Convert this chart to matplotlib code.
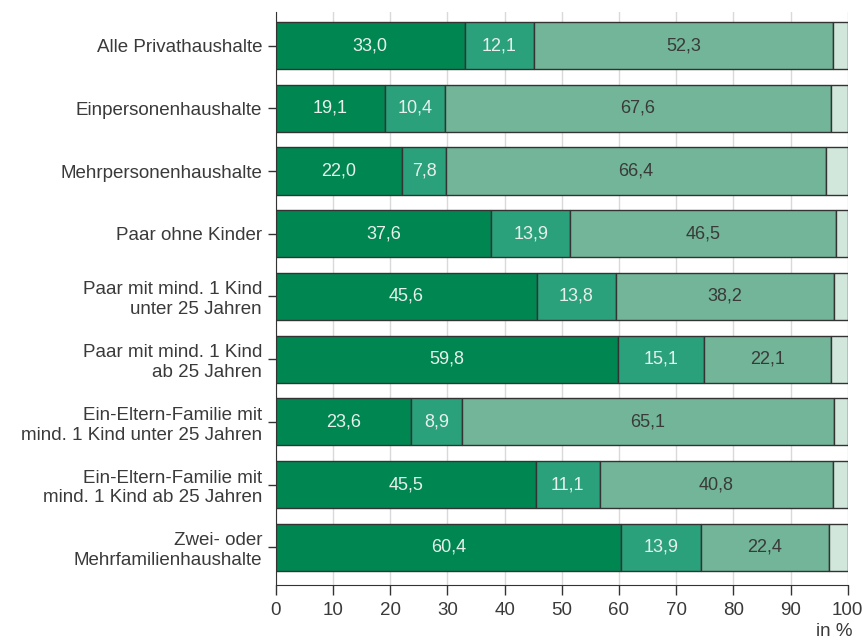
import matplotlib
matplotlib.use("Agg")
from matplotlib import pyplot as plt

plt.rcParams['font.family'] = ['Liberation Sans', 'DejaVu Sans']

# Haushaltstypen und Anteile in %
categories = [
    "Alle Privathaushalte",
    "Einpersonenhaushalte",
    "Mehrpersonenhaushalte",
    "Paar ohne Kinder",
    "Paar mit mind. 1 Kind\nunter 25 Jahren",
    "Paar mit mind. 1 Kind\nab 25 Jahren",
    "Ein-Eltern-Familie mit\nmind. 1 Kind unter 25 Jahren",
    "Ein-Eltern-Familie mit\nmind. 1 Kind ab 25 Jahren",
    "Zwei- oder\nMehrfamilienhaushalte",
]
seg1 = [33.0, 19.1, 22.0, 37.6, 45.6, 59.8, 23.6, 45.5, 60.4]
seg2 = [12.1, 10.4, 7.8, 13.9, 13.8, 15.1, 8.9, 11.1, 13.9]
seg3 = [52.3, 67.6, 66.4, 46.5, 38.2, 22.1, 65.1, 40.8, 22.4]
seg4 = [2.6, 2.9, 3.8, 2.0, 2.4, 3.0, 2.4, 2.6, 3.3]

colors = ['#008751', '#2aa17b', '#72b598', '#d2e7dc']
text_colors = ['#e8f0ec', '#e8f0ec', '#3a3a3a', None]

fig = plt.figure(figsize=(8.65, 6.42), dpi=100)
ax = fig.add_axes([0.319, 0.0888, 0.661, 0.892])

y = list(range(len(categories)))
left = [0] * len(categories)
for vals, col, tcol in zip([seg1, seg2, seg3, seg4], colors, text_colors):
    bars = ax.barh(y, vals, left=left, height=0.75, color=col,
                   edgecolor='#333333', linewidth=1, zorder=3)
    if tcol:
        for b, v in zip(bars, vals):
            ax.text(b.get_x() + b.get_width() / 2, b.get_y() + b.get_height() / 2,
                    f"{v:.1f}".replace('.', ','), ha='center', va='center',
                    color=tcol, fontsize=13, zorder=4)
    left = [l + v for l, v in zip(left, vals)]

ax.set_xlim(0, 100)
ax.set_ylim(8.6, -0.53)
ax.set_xticks(range(0, 101, 10))
ax.set_yticks(y)
ax.set_yticklabels(categories, fontsize=13.5, color='#3a3a3a')
ax.tick_params(axis='x', labelsize=13.5, labelcolor='#3a3a3a', color='#333333',
               length=7, width=1, pad=5)
ax.tick_params(axis='y', length=6, width=1, color='#333333', pad=4)
for lab in ax.get_yticklabels():
    lab.set_multialignment('right')

ax.grid(axis='x', color='#d9d9d9', linewidth=1, zorder=0)
for s in ['top', 'right']:
    ax.spines[s].set_visible(False)
ax.spines['left'].set_color('#333333')
ax.spines['bottom'].set_color('#333333')

fig.text(0.985, 0.003, "in %", ha='right', va='bottom', fontsize=13.5, color='#3a3a3a')

fig.savefig("out.png", dpi=100)
